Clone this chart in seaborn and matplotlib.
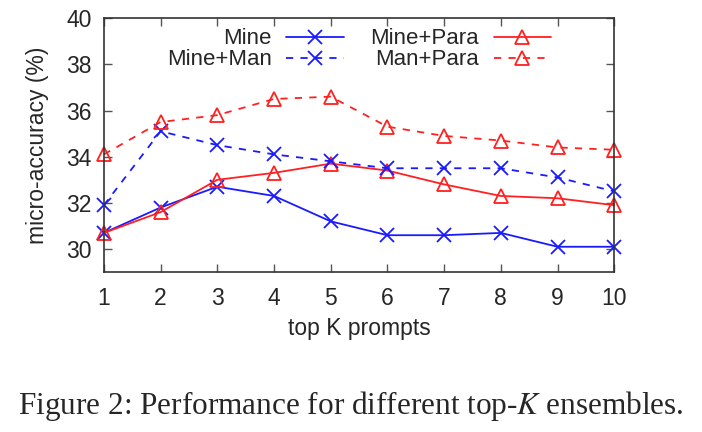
import numpy as np
import pandas as pd
import matplotlib
matplotlib.use("Agg")
import matplotlib.pyplot as plt
import seaborn as sns

k = [1, 2, 3, 4, 5, 6, 7, 8, 9, 10]
mine = [30.7, 31.8, 32.7, 32.3, 31.2, 30.6, 30.6, 30.7, 30.1, 30.1]
mine_para = [30.7, 31.6, 33.0, 33.3, 33.7, 33.4, 32.8, 32.3, 32.2, 31.9]
mine_man = [31.9, 35.1, 34.5, 34.1, 33.8, 33.5, 33.5, 33.5, 33.1, 32.5]
man_para = [34.1, 35.5, 35.8, 36.5, 36.6, 35.3, 34.9, 34.7, 34.4, 34.3]
series_names = ["Mine", "Mine+Para", "Mine+Man", "Man+Para"]
x_ticks = [1, 2, 3, 4, 5, 6, 7, 8, 9, 10]
y_ticks = [30, 32, 34, 36, 38, 40]

sns.set_theme(style="ticks")
plt.rcParams['font.family'] = ['Liberation Sans', 'DejaVu Sans']
plt.rcParams['mathtext.fontset'] = 'stix'

fig = plt.figure(figsize=(7.02, 4.32), dpi=100)
ax = fig.add_axes([0.148, 0.370, 0.727, 0.588])

styles = {
    "Mine": dict(color="#1a1aff", ls="-", marker="x"),
    "Mine+Para": dict(color="#ff2020", ls="-", marker="^"),
    "Mine+Man": dict(color="#1a1aff", ls=(0, (4, 4)), marker="x"),
    "Man+Para": dict(color="#ff2020", ls=(0, (4, 4)), marker="^"),
}
data = {"Mine": mine, "Mine+Para": mine_para, "Mine+Man": mine_man, "Man+Para": man_para}
for name in series_names:
    st = styles[name]
    df = pd.DataFrame({"k": k, "v": data[name]})
    mfc = "none" if st["marker"] == "^" else st["color"]
    sns.lineplot(data=df, x="k", y="v", ax=ax, color=st["color"], linestyle=st["ls"],
                 marker=st["marker"], markersize=10, markerfacecolor=mfc,
                 markeredgecolor=st["color"], markeredgewidth=1.3, linewidth=1.3,
                 label=name, clip_on=False)

ax.set_xlim(1, 10)
ax.set_ylim(29, 40)
ax.set_xticks(x_ticks)
ax.set_yticks(y_ticks)
ax.tick_params(direction="in", top=True, right=True, length=6, width=1,
               labelsize=16.5, color="#555555")
ax.tick_params(axis="x", pad=11)
ax.tick_params(axis="y", pad=9)
for sp in ax.spines.values():
    sp.set_linewidth(1.2)
    sp.set_color("#333333")
ax.set_xlabel("top K prompts", fontsize=16.5, labelpad=5)
ax.set_ylabel("micro-accuracy (%)", fontsize=16.5, labelpad=12)

handles, labels = ax.get_legend_handles_labels()
order = [labels.index(n) for n in ["Mine", "Mine+Man", "Mine+Para", "Man+Para"]]
ax.legend([handles[i] for i in order], [labels[i] for i in order], ncol=2,
          markerfirst=False, frameon=False, loc="upper center",
          bbox_to_anchor=(0.5, 1.038), fontsize=16, handlelength=2.6,
          columnspacing=1.2, labelspacing=0.0, handletextpad=0.65)

fig.text(0.5, 0.06, "Figure 2: Performance for different top-$K$ ensembles.",
         ha="center", va="center", fontsize=22.5, family=["Liberation Serif", "DejaVu Serif"])

fig.savefig("out.png", dpi=100, facecolor="white")
